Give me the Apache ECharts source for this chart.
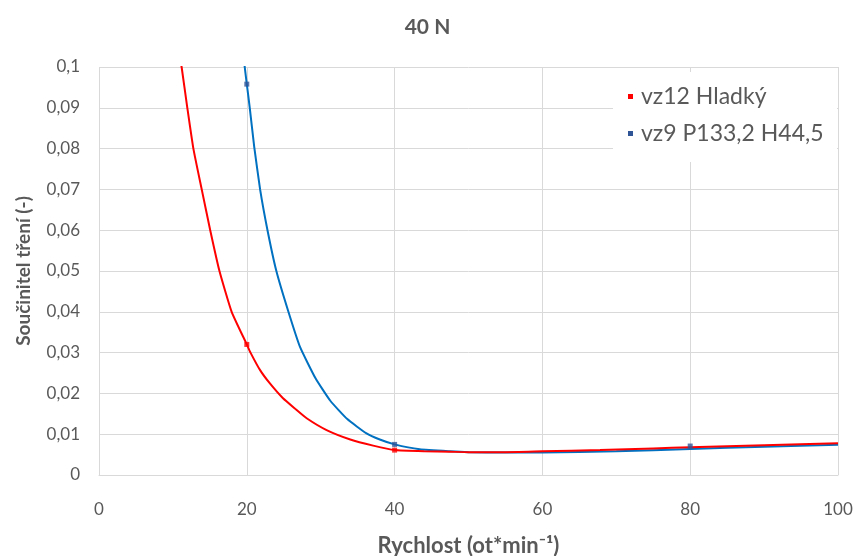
<!DOCTYPE html>
<html>
<head>
<meta charset="utf-8">
<script src="https://cdn.jsdelivr.net/npm/echarts@6/dist/echarts.min.js"></script>
<style>html,body{margin:0;padding:0;background:#fff}#c{width:855px;height:556px}</style>
</head>
<body>
<div id="c"></div>
<script>
const titleText = '40 N';
const xAxisName = 'Rychlost (ot*min\u207B\u00B9)';
const yAxisName = 'Součinitel tření (-)';
const seriesNames = ['vz12 Hladký', 'vz9 P133,2 H44,5'];
const seriesColors = ['#ff0000', '#0070c0'];
const markerColors = ['#ff0000', '#2f5597'];

const redCurve = [[10.8,0.104],[11.18,0.1],[11.95,0.09],[12.77,0.08],[13.9,0.07],[15.05,0.06],[16.3,0.05],[17.95,0.04],[20,0.032],[20.5,0.030],[21.8,0.0257],[23.1,0.0225],[24.9,0.0188],[26.5,0.0163],[28.1,0.0139],[30.8,0.011],[34,0.0087],[37.1,0.0072],[40,0.0061],[44,0.0058],[47.5,0.0057],[50,0.0056],[55,0.0056],[60,0.0058],[67.8,0.0061],[75,0.0065],[80,0.0068],[90,0.0073],[100,0.0078]];
const blueCurve = [[19.6,0.102],[19.72,0.1],[20,0.0958],[20.4,0.09],[21.0,0.0805],[21.8,0.07],[22.8,0.06],[24.0,0.05],[25.6,0.0402],[27.2,0.0314],[29.3,0.0237],[31.3,0.0182],[33.6,0.0137],[36.2,0.0102],[38,0.0087],[40,0.0075],[43.4,0.0063],[47.5,0.0058],[50,0.0056],[55,0.0055],[60,0.0055],[70,0.0058],[80,0.0064],[90,0.0069],[100,0.0074]];
const redPoints = [[20,0.032],[40,0.0061]];
const bluePoints = [[20,0.0958],[40,0.0075],[80,0.0071]];

const font = 'Lato, "Open Sans", sans-serif';
const grey = '#595959';
const chart = echarts.init(document.getElementById('c'));
chart.setOption({
  animation: false,
  title: { text: titleText, left: 'center', top: 12, textStyle: { fontFamily: font, fontSize: 21, fontWeight: 'bold', color: grey } },
  graphic: [{ type: 'rect', shape: { x: 613, y: 72, width: 224, height: 90 }, style: { fill: '#fff' }, z: 1, silent: true }],
  legend: {
    data: seriesNames.map(n => ({ name: n, icon: 'rect' })),
    orient: 'vertical', left: 628, top: 85, itemWidth: 5, itemHeight: 5, itemGap: 14,
    padding: 0,
    textStyle: { fontFamily: font, fontSize: 23, color: grey, padding: [0, 0, 0, 3] }
  },
  grid: { left: 99, right: 17, top: 67, bottom: 81, outerBoundsMode: 'none' },
  xAxis: {
    type: 'value', min: 0, max: 100, interval: 20,
    name: xAxisName, nameLocation: 'middle', nameGap: 60,
    nameTextStyle: { fontFamily: font, fontSize: 22, fontWeight: 'bold', color: grey },
    axisLine: { lineStyle: { color: '#d9d9d9' } }, axisTick: { show: false },
    axisLabel: { fontFamily: font, fontSize: 17, color: grey, margin: 26 },
    splitLine: { show: true, lineStyle: { color: '#d9d9d9' } }
  },
  yAxis: {
    type: 'value', min: 0, max: 0.1, interval: 0.01,
    name: yAxisName, nameLocation: 'middle', nameGap: 66,
    nameTextStyle: { fontFamily: font, fontSize: 19, fontWeight: 'bold', color: grey },
    axisLine: { show: false }, axisTick: { show: false },
    axisLabel: { fontFamily: font, fontSize: 17, color: grey, margin: 19, formatter: v => String(+v.toFixed(3)).replace('.', ',') },
    splitLine: { show: true, lineStyle: { color: '#d9d9d9' } }
  },
  series: [
    { name: seriesNames[1], type: 'line', data: blueCurve, showSymbol: false, smooth: 0.15, clip: true, lineStyle: { width: 2, color: seriesColors[1] }, itemStyle: { color: markerColors[1] }, z: 2 },
    { name: seriesNames[0], type: 'line', data: redCurve, showSymbol: false, smooth: 0.15, clip: true, lineStyle: { width: 2, color: seriesColors[0] }, itemStyle: { color: markerColors[0] }, z: 3 },
    { name: seriesNames[0], type: 'scatter', data: redPoints, symbol: 'rect', symbolSize: 5, itemStyle: { color: markerColors[0] }, z: 4 },
    { name: seriesNames[1], type: 'scatter', data: bluePoints, symbol: 'rect', symbolSize: 5, itemStyle: { color: markerColors[1] }, z: 4 }
  ]
});
</script>
</body>
</html>
